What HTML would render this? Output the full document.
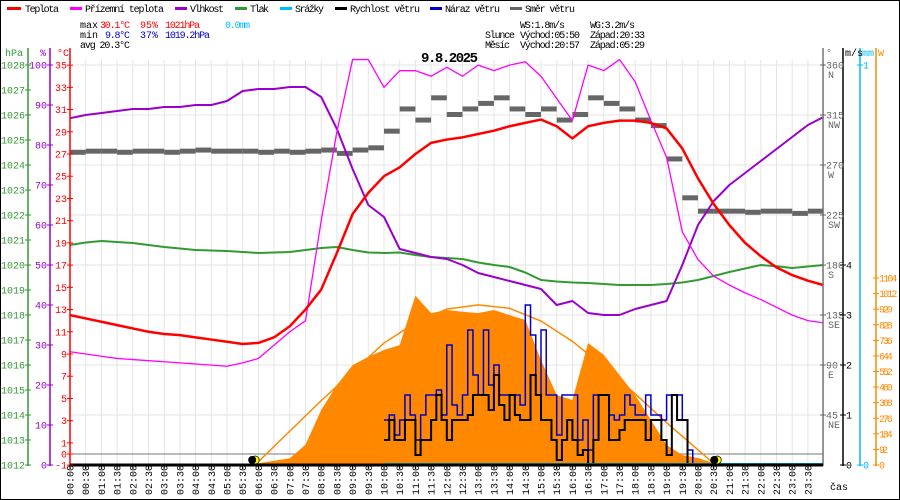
<!DOCTYPE html>
<html><head><meta charset="utf-8"><style>
html,body{margin:0;padding:0;background:#fff}
svg{display:block}
text{font-family:"Liberation Mono",monospace;font-size:10px}
</style></head><body>
<svg id="c" width="900" height="500" viewBox="0 0 900 500" xmlns="http://www.w3.org/2000/svg">
<rect x="0.5" y="0.5" width="899" height="499" fill="#fff" stroke="#000"/>
<g id="grid"></g>
<g id="plot"></g>
<g id="axes"></g>
<g>
 <g><rect x="7" y="7" width="14" height="3" fill="#f00"/><text x="25" y="12" textLength="34">Teplota</text></g>
 <g><rect x="70" y="7" width="12" height="3" fill="#f0f"/><text x="85" y="12" textLength="79">Přízemní teplota</text></g>
 <g><rect x="175" y="7" width="12" height="3" fill="#90c"/><text x="190" y="12" textLength="34">Vlhkost</text></g>
 <g><rect x="235" y="7" width="12" height="3" fill="#393"/><text x="250" y="12" textLength="19">Tlak</text></g>
 <g><rect x="280" y="7" width="12" height="3" fill="#0bf"/><text x="295" y="12" textLength="29">Srážky</text></g>
 <g><rect x="335" y="7" width="12" height="3" fill="#000"/><text x="350" y="12" textLength="70">Rychlost větru</text></g>
 <g><rect x="430" y="7" width="12" height="3" fill="#00c"/><text x="445" y="12" textLength="55">Náraz větru</text></g>
 <g><rect x="510" y="7" width="12" height="3" fill="#666"/><text x="525" y="12" textLength="50">Směr větru</text></g>
</g>
<g>
 <text x="80" y="28">max</text>
 <text x="100" y="28" fill="#f00" textLength="30">30.1°C</text>
 <text x="140" y="28" fill="#f00">95%</text>
 <text x="165" y="28" fill="#f00" textLength="35">1021hPa</text>
 <text x="225" y="28" fill="#0bf" textLength="25">0.0mm</text>
 <text x="80" y="38">min</text>
 <text x="105" y="38" fill="#00c" textLength="25">9.8°C</text>
 <text x="140" y="38" fill="#00c">37%</text>
 <text x="165" y="38" fill="#00c" textLength="45">1019.2hPa</text>
 <text x="80" y="48" textLength="50">avg 20.3°C</text>
 <text x="520" y="28" textLength="45">WS:1.8m/s</text>
 <text x="590" y="28" textLength="45">WG:3.2m/s</text>
 <text x="485" y="38" textLength="30">Slunce</text>
 <text x="520" y="38" textLength="60">Východ:05:50</text>
 <text x="590" y="38" textLength="55">Západ:20:33</text>
 <text x="485" y="48" textLength="25">Měsíc</text>
 <text x="520" y="48" textLength="60">Východ:20:57</text>
 <text x="590" y="48" textLength="55">Západ:05:29</text>
</g>
<text x="421" y="62" style="font-size:14px;font-weight:bold" textLength="57">9.8.2025</text>
</svg>
<script>
// ---- data (30-min steps from 00:00 to 24:00, 49 values) ----
const temperature=[12.5,12.2,11.9,11.6,11.3,11.0,10.8,10.7,10.5,10.3,10.1,9.9,10.0,10.5,11.5,13.0,14.8,18.1,21.6,23.5,25.0,25.8,27.0,28.0,28.3,28.5,28.8,29.1,29.5,29.8,30.1,29.5,28.4,29.5,29.8,30.0,30.0,29.8,29.3,27.5,24.8,22.5,20.6,19.0,17.8,16.8,16.1,15.6,15.2];
const feelsLike=[9.2,9.0,8.8,8.6,8.5,8.4,8.3,8.2,8.1,8.0,7.9,8.2,8.6,9.8,11.0,12.0,21.0,29.0,35.5,35.5,33.0,34.5,34.5,34.0,34.8,34.0,35.0,34.5,35.0,35.3,34.0,32.0,30.0,35.0,34.5,35.5,33.5,30.0,26.7,20.0,17.5,16.0,15.2,14.5,13.9,13.2,12.5,12.0,11.8];
const humidity=[86.7,87.5,88,88.5,89,89,89.5,89.5,90,90,91,93.5,94,94,94.5,94.5,92,84,74,65,62,54,53,52,51.5,50,48,47,46,45,44,40,41,38,37.5,37.5,39,40,41,50,60,66,70,73,76,79,82,85,87];
const pressure=[1020.8,1020.9,1020.96,1020.92,1020.88,1020.8,1020.72,1020.66,1020.6,1020.58,1020.56,1020.52,1020.48,1020.5,1020.52,1020.6,1020.68,1020.72,1020.6,1020.5,1020.48,1020.5,1020.4,1020.32,1020.28,1020.24,1020.1,1020.0,1019.92,1019.7,1019.4,1019.34,1019.3,1019.28,1019.24,1019.2,1019.2,1019.2,1019.24,1019.3,1019.4,1019.56,1019.72,1019.86,1020.0,1019.95,1019.88,1019.94,1020.0];
const radiation=[0,0,0,0,0,0,0,0,0,0,0,0,10,25,40,120,325,472,590,638,680,708,1000,897,915,905,897,915,885,856,620,413,384,720,650,531,413,266,118,59,41,12,0,0,0,0,0,0,0];
// wind direction per 30-min interval (48)
const windDir=[281,282,282,281,282,282,281,282,283,282,282,282,281,282,281,282,283,280,283,285,300,320,310,330,315,320,325,330,320,315,320,310,315,330,325,320,310,305,275,240,228,228,228,227,228,228,226,228];
// theoretical radiation (minute of day, W)
const theoMin=[350,360,420,480,540,600,660,720,780,840,900,960,1020,1080,1140,1200,1233];
const theoW=[0,20,200,380,550,720,840,920,945,925,850,730,580,420,250,90,0];
// wind speed / gust, 10-min steps from 10:00 (61 values)
const windSpeed=[0.5,0.9,0.5,0.5,0.9,0.9,0.2,0.5,0.5,0.9,1.4,0.9,0.5,0.9,0.9,0.9,1.0,1.4,1.4,1.4,1.1,1.8,1.2,0.9,1.4,1.0,0.9,0.9,1.8,1.4,0.9,0.9,0.5,0.1,0.5,0.9,0.5,0.2,0.3,0,0.5,1.4,1.4,0.5,0.5,0.7,0.9,0.9,0.9,0.9,0.5,0.9,0.9,0.5,0.2,1.4,0.9,0.9,0,0,0];
const windGust=[0.9,1.0,0.6,0.9,1.4,1.0,0.5,1.0,1.4,1.4,1.5,1.0,2.4,1.2,1.0,1.4,2.7,1.8,1.4,2.7,1.6,2.0,1.4,1.4,1.4,1.4,1.2,3.2,2.6,1.4,2.7,1.4,1.4,0.6,1.4,1.4,1.4,0.5,0.9,0.3,1.4,1.4,1.4,1.0,0.9,1.0,1.4,1.2,1.0,1.0,1.4,1.0,1.0,0.9,1.4,1.4,1.4,0.9,0.3,0,0];
const hpaTicks=[1012,1013,1014,1015,1016,1017,1018,1019,1020,1021,1022,1023,1024,1025,1026,1027,1028];
const humTicks=[0,10,20,30,40,50,60,70,80,90,100];
const tempTicks=[-1,0,1,3,5,7,9,11,13,15,17,19,21,23,25,27,29,31,33,35];
const dirTicks=[45,90,135,180,225,270,315,360];
const dirNames=['NE','E','SE','S','SW','W','NW','N'];
const speedTicks=[0,1,2,3,4];
const wTicks=[0,92,184,276,368,460,552,644,736,828,920,1012,1104];

// ---- scales ----
const X=m=>70+m*753.6/1440;
const YT=c=>454-c*400/36;
const YH=h=>465-4*h;
const YP=p=>465-25*(p-1012);
const YD=d=>465-d*400/360;
const YW=w=>465-w*187/1104;
const YS=s=>465-50*s;
const NS='http://www.w3.org/2000/svg';
function mk(tag,attrs,parent){const e=document.createElementNS(NS,tag);for(const k in attrs)e.setAttribute(k,attrs[k]);parent.appendChild(e);return e;}
const grid=document.getElementById('grid'),plot=document.getElementById('plot'),axes=document.getElementById('axes');

// grid
for(let i=0;i<=48;i++){const x=X(i*30);const l=mk('line',{x1:x,x2:x,y1:60,y2:465,stroke:'#e4e4e4'},grid);

}
for(let y=65;y<465;y+=50){const l=mk('line',{x1:70,x2:823,y1:y,y2:y,stroke:'#e4e4e4'},grid);

}
const zl=mk('line',{x1:70,x2:823,y1:YT(0),y2:YT(0),stroke:'#777'},grid);



// radiation area
let d='M'+X(0)+' 465';
radiation.forEach((v,i)=>{d+=' L'+X(i*30)+' '+YW(v);});
d+=' L'+X(1440)+' 465 Z';
const ra=mk('path',{d:d,fill:'#f80'},plot);


const tp=mk('polyline',{points:theoMin.map((m,i)=>X(m)+','+YW(theoW[i])).join(' '),fill:'none',stroke:'#f80','stroke-width':1.5},plot);



// wind direction marks
windDir.forEach((v,i)=>{const r=mk('rect',{x:X(i*30),y:YD(v)-3,width:15.7,height:5,fill:'#666'},plot);

});

function line(arr,step,start,yf,color,w,name){
  const pts=arr.map((v,i)=>X(start+i*step)+','+yf(v)).join(' ');
  const p=mk('polyline',{points:pts,fill:'none',stroke:color,'stroke-width':w,'stroke-linejoin':'round'},plot);
  
  
}
function stepLine(arr,step,start,yf,color,w,name){
  let pts=[];arr.forEach((v,i)=>{pts.push(X(start+i*step)+','+yf(v));pts.push(X(start+(i+1)*step)+','+yf(v));});
  const p=mk('polyline',{points:pts.join(' '),fill:'none',stroke:color,'stroke-width':w},plot);
  
  
}
line(pressure,30,0,YP,'#393',2,'pressure-line');
line(humidity,30,0,YH,'#90c',2,'humidity-line');
line(feelsLike,30,0,YT,'#f0f',1.3,'feels-like-line');
line(temperature,30,0,YT,'#f00',2.5,'temperature-line');
stepLine(windGust,10,600,YS,'#00c',1.5,'wind-gust-line');
stepLine(windSpeed,10,600,YS,'#000',2,'wind-speed-line');
const rl=mk('line',{x1:X(600),x2:823,y1:464,y2:464,stroke:'#0bf','stroke-width':2},plot);



// sun / moon icons
[[350,'sunrise-icon'],[1233,'sunset-icon']].forEach(([m,n])=>{const g=mk('g',{},plot);


mk('circle',{cx:X(m)+2,cy:460,r:4,fill:'#ff0',stroke:'#000','stroke-width':0.7},g);mk('circle',{cx:X(m)-1,cy:460,r:4,fill:'#000'},g);});

// axes lines
[[28,'#393','hpa-axis'],[50,'#90c','humidity-axis'],[70,'#f00','temp-axis'],[823,'#777','direction-axis'],[843,'#000','wind-axis'],[860,'#0bf','rain-axis'],[876,'#f80','radiation-axis']].forEach(([x,c,n])=>{
 const l=mk('line',{x1:x,x2:x,y1:48,y2:466,stroke:c,'stroke-width':1.5},axes);
 
 });
const xa=mk('line',{x1:70,x2:823,y1:465,y2:465,stroke:'#000','stroke-width':3},axes);



function tick(x,y,txt,color,anchor,name,tx,fs,tl){
 mk('line',{x1:x-3,x2:x+3,y1:y,y2:y,stroke:color},axes);
 const t=mk('text',{x:tx,y:y+3.5,fill:color,'text-anchor':anchor},axes);t.textContent=txt;
 if(fs)t.setAttribute('font-size',fs);
 if(tl)t.setAttribute('textLength',tl*String(txt).length);
 
 
}
hpaTicks.forEach(v=>tick(28,YP(v),v,'#393','end','hpa-tick-label',25));
humTicks.forEach(v=>tick(50,YH(v),v,'#90c','end','humidity-tick-label',47));
tempTicks.forEach(v=>tick(70,YT(v),v,'#f00','end','temp-tick-label',67));
dirTicks.forEach((v,i)=>{tick(823,YD(v),v,'#666','start','direction-tick-label',826);
 const t=mk('text',{x:828,y:YD(v)+13,fill:'#666'},axes);t.textContent=dirNames[i];
 
 });
speedTicks.forEach(v=>tick(843,YS(v),v,'#000','start','wind-tick-label',846));
tick(860,465,0,'#0bf','start','rain-tick-label',863,'8');
tick(860,YS(4)-200,1,'#0bf','start','rain-tick-label',863,'8');
wTicks.forEach(v=>tick(876,YW(v),v,'#f80','start','radiation-tick-label',879,'8',4.6));
[['hPa',5,'#393'],['%',40,'#90c'],['°C',57,'#f00'],['°',826,'#666'],['m/s',845,'#000'],['mm',862,'#0bf'],['W',878,'#f80']].forEach(([s,x,c])=>{
 const t=mk('text',{x:x,y:56,fill:c,'font-size':'9'},axes);t.textContent=s;
 
 });

// time labels
for(let i=0;i<48;i++){const x=X(i*30);const h=String(Math.floor(i/2)).padStart(2,'0')+':'+(i%2?'30':'00');
 mk('line',{x1:x,x2:x,y1:465,y2:469,stroke:'#000'},axes);
 const t=mk('text',{x:0,y:0,transform:'translate('+(x+3.5)+',495) rotate(-90)','font-size':'9'},axes);t.textContent=h;
 
 }
const cas=mk('text',{x:830,y:490},axes);cas.textContent='čas';


</script>
</body></html>
